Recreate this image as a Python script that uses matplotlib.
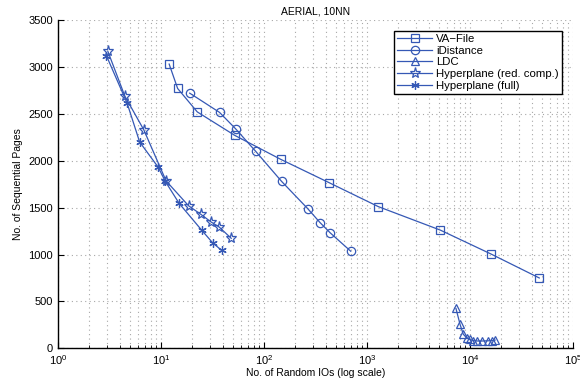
import matplotlib
matplotlib.use("Agg")
import matplotlib.pyplot as plt
from matplotlib.ticker import LogLocator, NullFormatter

plt.rcParams['font.family'] = ['Liberation Sans', 'DejaVu Sans']
plt.rcParams['mathtext.fontset'] = 'custom'
plt.rcParams['mathtext.rm'] = 'Liberation Sans'
plt.rcParams['mathtext.it'] = 'Liberation Sans'

va_x = [12.0, 14.5, 22.5, 52, 145, 430, 1290, 5150, 16000, 47000]
va_y = [3030, 2770, 2520, 2270, 2015, 1765, 1510, 1260, 1005, 750]

idist_x = [19, 37, 53, 83, 148, 265, 350, 440, 695]
idist_y = [2720, 2515, 2340, 2100, 1780, 1490, 1340, 1230, 1035]

ldc_x = [7300, 8000, 8600, 9300, 10000, 10800, 11800, 13200, 14900, 16500, 17500]
ldc_y = [425, 255, 150, 110, 95, 82, 78, 78, 80, 82, 88]

hred_x = [3.05, 4.45, 6.8, 11.2, 18.5, 24.4, 30.6, 36.7, 48]
hred_y = [3165, 2690, 2330, 1785, 1520, 1428, 1347, 1293, 1173]

hfull_x = [2.95, 4.7, 6.2, 9.4, 11.0, 15, 24.8, 32, 38.8]
hfull_y = [3120, 2610, 2200, 1930, 1780, 1545, 1260, 1120, 1045]

labels = ['VA\u2212File', 'iDistance', 'LDC', 'Hyperplane (red. comp.)', 'Hyperplane (full)']
title = 'AERIAL, 10NN'
xlabel = 'No. of Random IOs (log scale)'
ylabel = 'No. of Sequential Pages'

color = '#3558b5'

fig = plt.figure(figsize=(5.8, 3.81), dpi=100)
ax = fig.add_axes([0.1, 0.0858, 0.888, 0.8617])

series = [(va_x, va_y, 's'), (idist_x, idist_y, 'o'), (ldc_x, ldc_y, '^'),
          (hred_x, hred_y, '*'), (hfull_x, hfull_y, (6, 2, 0))]
for (x, y, m), lab in zip(series, labels):
    ms = 8 if m == '*' else 6
    ax.plot(x, y, color=color, lw=0.9, marker=m, ms=ms, mfc='none',
            mec=color, mew=0.9, label=lab, zorder=3)

ax.set_xscale('log')
ax.set_xlim(1, 1e5)
ax.set_ylim(0, 3500)
ax.set_yticks(range(0, 3501, 500))
ax.xaxis.set_major_locator(LogLocator(base=10, numticks=10))
ax.xaxis.set_minor_locator(LogLocator(base=10, subs=range(2, 10), numticks=20))
ax.xaxis.set_minor_formatter(NullFormatter())

gstyle = dict(linestyle=(0, (1, 3)), color='#a8a8a8', lw=0.8)
ax.grid(True, which='major', axis='both', **gstyle)
ax.grid(True, which='minor', axis='x', **gstyle)

for s in ['top', 'right']:
    ax.spines[s].set_visible(False)
for s in ['left', 'bottom']:
    ax.spines[s].set_linewidth(1.0)

ax.tick_params(direction='in', labelsize=8, length=4)
ax.tick_params(which='minor', direction='in', length=2)

ax.set_title(title, fontsize=7.5, pad=4)
ax.set_xlabel(xlabel, fontsize=7.5, labelpad=1)
ax.set_ylabel(ylabel, fontsize=7.5, labelpad=4)

leg = ax.legend(loc='upper right', bbox_to_anchor=(0.99, 0.985), fontsize=8.2,
                frameon=True, fancybox=False, edgecolor='black', framealpha=1,
                handlelength=3.0, borderpad=0.3, labelspacing=0.15, handletextpad=0.4)
leg.get_frame().set_linewidth(1.0)

fig.savefig('out.png', dpi=100)
